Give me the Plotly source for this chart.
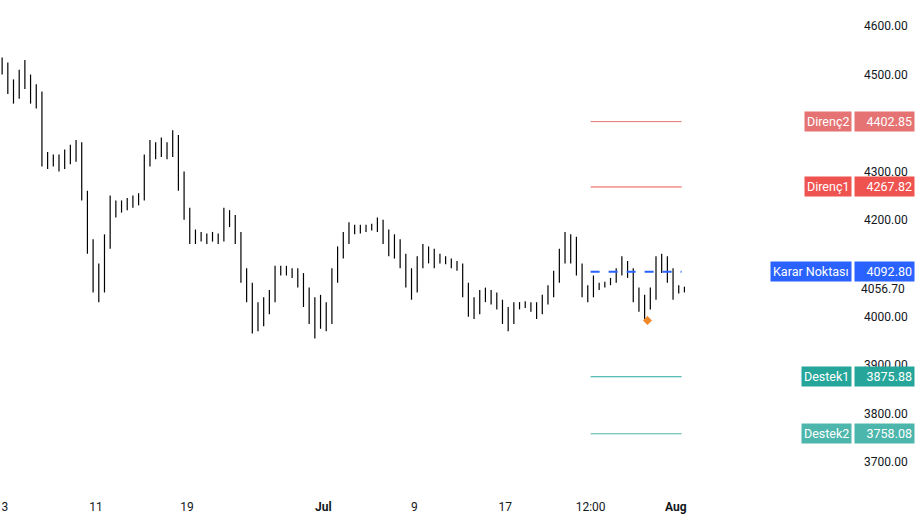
import plotly.graph_objects as go
import pandas as pd

close = [4520,4480,4460,4500,4490,4470,4460,4330,4320,4325,4315,4330,4340,4350,4250,4150,4080,4060,4150,4220,
4225,4230,4235,4240,4245,4320,4345,4340,4350,4345,4370,4280,4220,4170,4160,4165,4160,4165,4160,4210,
4200,4170,4090,4060,4000,3990,4020,4040,4095,4100,4095,4095,4080,4050,4000,3990,4020,3990,4080,4130,
4160,4180,4185,4180,4185,4185,4190,4170,4140,4150,4120,4090,4060,4110,4140,4130,4115,4120,4115,4110,
4105,4060,4020,4010,4040,4050,4040,4030,4000,3990,4020,4025,4025,4020,4010,4030,4050,4080,4120,4150,
4160,4100,4050,4045,4060,4065,4068,4075,4090,4110,4095,4050,4030,4020,4040,4100,4120,4095,4060,4055,4056.7]
open_ = [4530] + close[:-1]
high = [4535,4525,4490,4510,4530,4500,4480,4465,4340,4335,4335,4345,4355,4365,4360,4260,4160,4110,4170,4250,
4240,4240,4245,4250,4255,4335,4365,4360,4370,4360,4385,4375,4300,4225,4180,4175,4172,4175,4172,4225,
4220,4210,4175,4100,4070,4030,4040,4055,4105,4105,4105,4100,4100,4090,4060,4040,4045,4030,4100,4145,
4175,4195,4190,4190,4190,4192,4205,4200,4180,4170,4160,4130,4100,4125,4150,4145,4140,4130,4125,4120,
4115,4110,4070,4040,4055,4060,4055,4050,4035,4020,4030,4030,4032,4030,4030,4045,4065,4095,4140,4175,
4170,4165,4110,4065,4085,4070,4072,4080,4100,4125,4115,4100,4060,4045,4060,4125,4130,4125,4100,4065,4062]
low = [4500,4460,4440,4450,4470,4440,4430,4310,4305,4310,4300,4305,4315,4320,4240,4130,4050,4030,4050,4140,
4205,4215,4220,4225,4230,4240,4310,4325,4330,4325,4330,4260,4200,4150,4150,4155,4150,4155,4150,4155,
4185,4150,4070,4030,3965,3970,3980,4005,4030,4085,4085,4080,4060,4020,3985,3955,3975,3970,3985,4070,
4120,4150,4170,4172,4175,4178,4175,4150,4125,4120,4100,4060,4035,4050,4100,4110,4100,4110,4108,4100,
4095,4040,4000,3995,4005,4030,4025,4015,3985,3970,3985,4015,4018,4010,3995,4005,4025,4040,4070,4110,
4110,4085,4040,4030,4040,4055,4060,4065,4070,4085,4080,4030,4010,3995,4015,4035,4090,4070,4035,4048,4050]

level_names = ["Direnç2", "Direnç1", "Karar Noktası", "Destek1", "Destek2"]
level_values = [4402.85, 4267.82, 4092.80, 3875.88, 3758.08]
level_colors = ["#e57373", "#ef5350", "#2962ff", "#26a69a", "#4db6ac"]
last_price = 4056.70
signal_time = "2024-07-29 12:00"
signal_price = 3992

tick_vals = ["2024-06-03","2024-06-11","2024-06-19","2024-07-01","2024-07-09","2024-07-17","2024-07-24 12:00","2024-08-01"]
tick_text = ["3","11","19","<b>Jul</b>","9","17","12:00","<b>Aug</b>"]

dates = pd.date_range("2024-06-02 18:00", periods=len(close), freq="12h")

fig = go.Figure()
fig.add_trace(go.Ohlc(x=dates, open=open_, high=high, low=low, close=close,
                      increasing_line_color="black", decreasing_line_color="black",
                      line_width=1.2, tickwidth=0, showlegend=False, hoverinfo="skip"))
fig.add_trace(go.Scatter(x=[signal_time], y=[signal_price], mode="markers",
                         marker=dict(symbol="diamond", size=7, color="#f0892b"), showlegend=False))

lx0, lx1 = "2024-07-24 12:00", "2024-08-01 12:00"
W = 855
for n, v, c in zip(level_names, level_values, level_colors):
    fig.add_shape(type="line", x0=lx0, x1=lx1, y0=v, y1=v, xref="x", yref="y",
                  line=dict(color=c, width=2 if n == "Karar Noktası" else 1,
                            dash="dash" if n == "Karar Noktası" else "solid"))
    fig.add_annotation(x=852/W, xref="paper", y=v, yref="y", text=n, showarrow=False,
                       xanchor="right", bgcolor=c, font=dict(color="white", size=12.5),
                       borderpad=2)
    fig.add_annotation(x=854/W, xref="paper", y=v, yref="y", text=f"{v:.2f}", showarrow=False,
                       xanchor="left", align="right", width=55, bgcolor=c,
                       font=dict(color="white", size=12.5), borderpad=2)
fig.add_annotation(x=907/W, xref="paper", y=last_price, yref="y", text=f"{last_price:.2f}",
                   showarrow=False, xanchor="right", font=dict(color="#131722", size=12))

fig.update_layout(
    width=920, height=520, margin=dict(l=0, r=65, t=0, b=30, autoexpand=False),
    plot_bgcolor="white", paper_bgcolor="white",
    font=dict(family="Roboto, Arial, sans-serif", size=12, color="#131722"),
    xaxis=dict(range=["2024-06-02 13:30", "2024-08-16 18:00"], showgrid=False, rangeslider_visible=False,
               tickvals=tick_vals, ticktext=tick_text, tickangle=0, zeroline=False, ticks="",
               automargin=False, ticklabelstandoff=8),
    yaxis=dict(side="right", range=[3642, 4654], showgrid=False, zeroline=False, automargin=False,
               tickvals=[3700,3800,3900,4000,4100,4200,4300,4400,4500,4600],
               ticktext=["3700.00","3800.00","3900.00","4000.00","4100.00","4200.00","4300.00","4400.00","4500.00","4600.00"],
               ticklabelstandoff=8),
)
fig.write_html("out.html", config={"displayModeBar": False})
with open("out.html", encoding="utf-8") as f:
    html = f.read()
html = html.replace("<head>", "<head><style>html,body{margin:0;padding:0;overflow:hidden;}</style>", 1)
with open("out.html", "w", encoding="utf-8") as f:
    f.write(html)
